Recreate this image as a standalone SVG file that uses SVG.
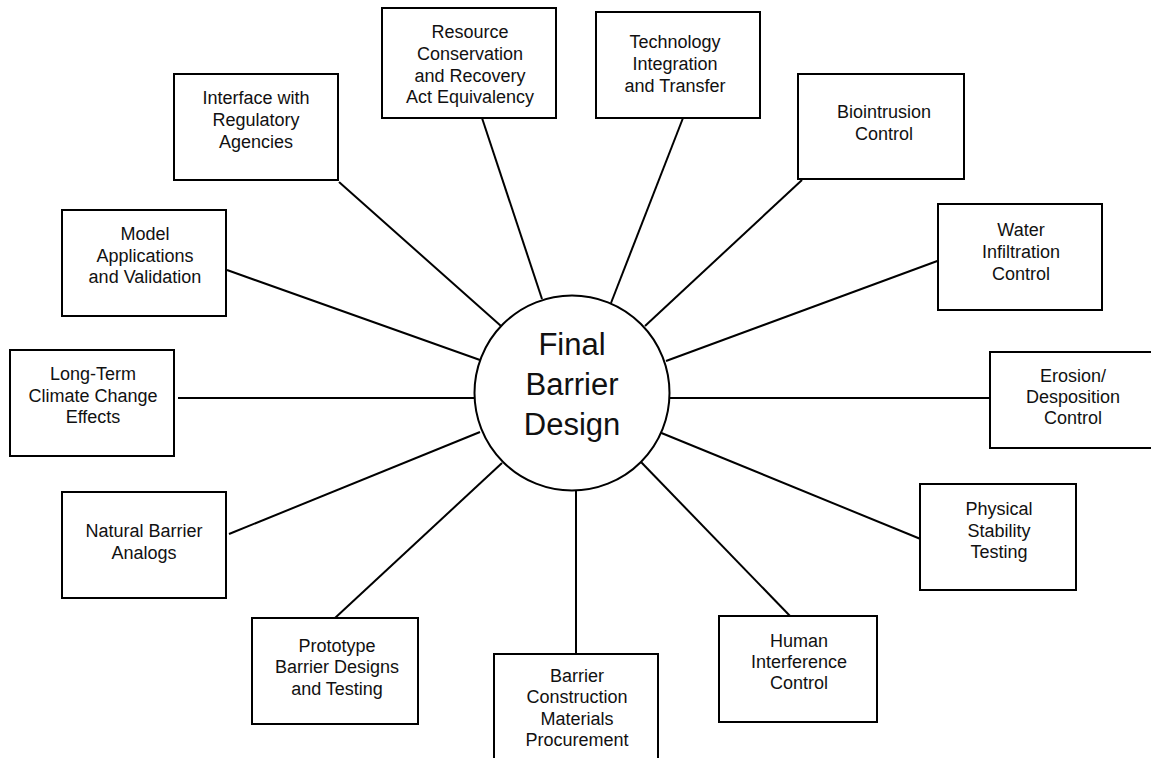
<svg xmlns="http://www.w3.org/2000/svg" width="1151" height="758" viewBox="0 0 1151 758">
<style>
.box{fill:#fff;stroke:#000;stroke-width:2}
.t{font-family:"Liberation Sans",Arial,sans-serif;font-size:18px;fill:#111;text-anchor:middle}
.c{font-family:"Liberation Sans",Arial,sans-serif;font-size:31px;fill:#111;text-anchor:middle}
.ln{stroke:#000;stroke-width:2;fill:none}
</style>
<rect width="1151" height="758" fill="#fff"/>
<g id="connectors">
<line class="ln" x1="339" y1="182" x2="501" y2="326"/>
<line class="ln" x1="482" y1="118" x2="542" y2="299"/>
<line class="ln" x1="683" y1="118" x2="611" y2="303"/>
<line class="ln" x1="802" y1="180" x2="645" y2="326"/>
<line class="ln" x1="940" y1="260" x2="666" y2="361"/>
<line class="ln" x1="670" y1="398" x2="990" y2="398"/>
<line class="ln" x1="659" y1="432" x2="923" y2="540"/>
<line class="ln" x1="641" y1="462" x2="791" y2="617"/>
<line class="ln" x1="576" y1="490" x2="576" y2="654"/>
<line class="ln" x1="335" y1="618" x2="502" y2="463"/>
<line class="ln" x1="229" y1="534" x2="480" y2="432"/>
<line class="ln" x1="178" y1="398" x2="474" y2="398"/>
<line class="ln" x1="227" y1="270" x2="480" y2="360"/>
</g>
<g id="center">
<circle cx="572" cy="393" r="97.5" fill="#fff" stroke="#000" stroke-width="2"/>
<text class="c" x="572" y="355">Final</text>
<text class="c" x="572" y="395">Barrier</text>
<text class="c" x="572" y="435">Design</text>
</g>
<g id="interface">
<rect class="box" x="174" y="74" width="164" height="106"/>
<text class="t" x="256" y="104">Interface with</text>
<text class="t" x="256" y="126">Regulatory</text>
<text class="t" x="256" y="148">Agencies</text>
</g>
<g id="resource">
<rect class="box" x="382" y="8" width="174" height="110"/>
<text class="t" x="470" y="38">Resource</text>
<text class="t" x="470" y="60">Conservation</text>
<text class="t" x="470" y="82">and Recovery</text>
<text class="t" x="470" y="103">Act Equivalency</text>
</g>
<g id="technology">
<rect class="box" x="596" y="12" width="164" height="106"/>
<text class="t" x="675" y="48">Technology</text>
<text class="t" x="675" y="70">Integration</text>
<text class="t" x="675" y="92">and Transfer</text>
</g>
<g id="biointrusion">
<rect class="box" x="798" y="74" width="166" height="105"/>
<text class="t" x="884" y="118">Biointrusion</text>
<text class="t" x="884" y="140">Control</text>
</g>
<g id="water">
<rect class="box" x="938" y="204" width="164" height="106"/>
<text class="t" x="1021" y="236">Water</text>
<text class="t" x="1021" y="258">Infiltration</text>
<text class="t" x="1021" y="280">Control</text>
</g>
<g id="erosion">
<rect class="box" x="990" y="352" width="164" height="96"/>
<text class="t" x="1073" y="382">Erosion/</text>
<text class="t" x="1073" y="403">Desposition</text>
<text class="t" x="1073" y="424">Control</text>
</g>
<g id="physical">
<rect class="box" x="920" y="484" width="156" height="106"/>
<text class="t" x="999" y="515">Physical</text>
<text class="t" x="999" y="537">Stability</text>
<text class="t" x="999" y="558">Testing</text>
</g>
<g id="human">
<rect class="box" x="719" y="616" width="158" height="106"/>
<text class="t" x="799" y="647">Human</text>
<text class="t" x="799" y="668">Interference</text>
<text class="t" x="799" y="689">Control</text>
</g>
<g id="barrier">
<rect class="box" x="494" y="654" width="164" height="110"/>
<text class="t" x="577" y="682">Barrier</text>
<text class="t" x="577" y="703">Construction</text>
<text class="t" x="577" y="725">Materials</text>
<text class="t" x="577" y="746">Procurement</text>
</g>
<g id="prototype">
<rect class="box" x="252" y="618" width="166" height="106"/>
<text class="t" x="337" y="652">Prototype</text>
<text class="t" x="337" y="673">Barrier Designs</text>
<text class="t" x="337" y="695">and Testing</text>
</g>
<g id="natural">
<rect class="box" x="62" y="492" width="164" height="106"/>
<text class="t" x="144" y="537">Natural Barrier</text>
<text class="t" x="144" y="559">Analogs</text>
</g>
<g id="longterm">
<rect class="box" x="10" y="350" width="164" height="106"/>
<text class="t" x="93" y="380">Long-Term</text>
<text class="t" x="93" y="402">Climate Change</text>
<text class="t" x="93" y="423">Effects</text>
</g>
<g id="model">
<rect class="box" x="62" y="210" width="164" height="106"/>
<text class="t" x="145" y="240">Model</text>
<text class="t" x="145" y="262">Applications</text>
<text class="t" x="145" y="283">and Validation</text>
</g>
</svg>
